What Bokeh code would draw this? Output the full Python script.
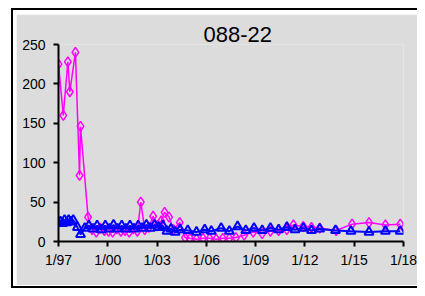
from bokeh.plotting import figure
from bokeh.models import FixedTicker, Range1d
from bokeh.layouts import column
from bokeh.embed import file_html
from bokeh.resources import INLINE

# ---- data ----
title_text = "088-22"
tick_years = [1997, 2000, 2003, 2006, 2009, 2012, 2015, 2018]
tick_labels = ["1/97", "1/00", "1/03", "1/06", "1/09", "1/12", "1/15", "1/18"]
y_ticks = [0, 50, 100, 150, 200, 250]

magenta_years = [1997.0, 1997.29, 1997.57, 1997.69, 1998.03, 1998.28, 1998.34, 1998.8,
                 1999.05, 1999.3, 1999.55, 1999.8, 2000.05, 2000.3, 2000.55, 2000.8,
                 2001.05, 2001.3, 2001.55, 2001.8, 2002.01, 2002.25, 2002.5, 2002.76,
                 2003.0, 2003.25, 2003.46, 2003.73, 2004.0, 2004.38, 2004.7, 2005.0,
                 2005.4, 2005.8, 2006.2, 2006.6, 2007.0, 2007.4, 2007.8, 2008.3,
                 2008.85, 2009.4, 2009.9, 2010.4, 2010.9, 2011.3, 2011.9, 2012.4,
                 2012.9, 2013.9, 2014.87, 2015.9, 2016.9, 2017.8]
magenta_values = [225, 160, 228, 190, 240, 84, 146, 31,
                  15, 12, 17, 14, 13, 12, 16, 13,
                  14, 12, 16, 13, 50, 15, 18, 32,
                  20, 26, 37, 31, 15, 24, 5, 4,
                  3, 4, 4, 3, 4, 4, 5, 8,
                  12, 10, 13, 14, 15, 21, 19, 18,
                  17, 14, 22, 24, 21, 22]

blue_years = [1997.0, 1997.12, 1997.25, 1997.37, 1997.5, 1997.62, 1997.75, 1997.9,
              1998.15, 1998.34, 1998.6, 1998.85, 1999.1, 1999.35, 1999.6, 1999.85,
              2000.1, 2000.35, 2000.6, 2000.85, 2001.1, 2001.35, 2001.6, 2001.85,
              2002.1, 2002.35, 2002.6, 2002.85, 2003.1, 2003.35, 2003.6, 2003.85,
              2004.1, 2004.4, 2004.87, 2005.4, 2005.9, 2006.3, 2006.9, 2007.4,
              2007.9, 2008.4, 2008.9, 2009.4, 2009.9, 2010.4, 2010.9, 2011.4,
              2011.9, 2012.4, 2012.9, 2013.86, 2014.8, 2015.9, 2016.9, 2017.8]
blue_values = [23, 25, 23, 27, 24, 27, 25, 27,
               18, 9, 17, 20, 16, 20, 15, 20,
               16, 21, 16, 20, 16, 20, 16, 20,
               17, 21, 17, 21, 18, 20, 13, 16,
               12, 15, 14, 12, 15, 13, 17, 13,
               19, 14, 17, 14, 17, 15, 18, 15,
               17, 14, 16, 14, 13, 12, 13, 13]

GRAY = "#dcdcdc"
FONT = "Liberation Sans"

# figure (gray chart area) placed at (16,14) by the wrapper; frame at x 58..403, y 44..241
p = figure(width=401, height=271, output_backend="svg", toolbar_location=None,
           x_range=Range1d(1997, 2018), y_range=Range1d(0, 250),
           min_border_left=42, min_border_right=14, min_border_top=30, min_border_bottom=44,
           background_fill_color=GRAY, border_fill_color=GRAY, outline_line_color=None,
           title=title_text)

p.title.align = "left"
p.title.offset = 145
p.title.vertical_align = "top"
p.title.text_font = FONT
p.title.text_font_size = "22px"
p.title.text_font_style = "normal"
p.title.text_color = "black"
p.title.standoff = 2

p.grid.visible = False

for ax in (p.xaxis[0], p.yaxis[0]):
    ax.axis_line_color = "black"
    ax.axis_line_width = 2
    ax.major_tick_line_color = "black"
    ax.major_tick_line_width = 2
    ax.major_tick_out = 5
    ax.major_tick_in = 0
    ax.minor_tick_line_color = None
    ax.major_label_text_font = FONT
    ax.major_label_text_font_size = "14px"
    ax.major_label_text_color = "black"

p.xaxis.ticker = FixedTicker(ticks=tick_years)
p.xaxis.major_label_overrides = {t: l for t, l in zip(tick_years, tick_labels)}
p.xaxis.major_label_standoff = 5
p.yaxis.ticker = FixedTicker(ticks=y_ticks)
p.yaxis.major_label_standoff = 8

p.line(magenta_years, magenta_values, line_color="#ff00ff", line_width=1.5)
p.scatter(magenta_years, magenta_values, marker="diamond", size=10,
          line_color="#ff00ff", line_width=1.5, fill_color=None)

p.line(blue_years, blue_values, line_color="#0000ff", line_width=2)
p.scatter(blue_years, blue_values, marker="triangle", size=9,
          line_color="#0000ff", line_width=2, fill_color=None)

layout = column(p, styles={
    "margin-left": "11px",
    "margin-top": "8px",
    "border-left": "2px solid black",
    "border-top": "2px solid black",
    "border-bottom": "2px solid black",
    "padding": "4px 0px 1px 3px",
    "background-color": "white",
})

open("out.html", "w").write(file_html(layout, INLINE))
